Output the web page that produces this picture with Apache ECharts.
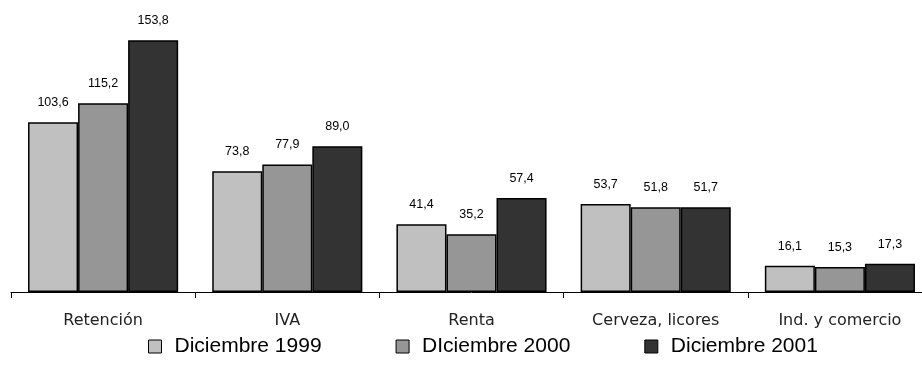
<!DOCTYPE html>
<html>
<head>
<meta charset="utf-8">
<script src="https://cdn.jsdelivr.net/npm/echarts@6/dist/echarts.min.js"></script>
<style>html,body{margin:0;padding:0;background:#fff;overflow:hidden}#c{width:940px;height:373px}</style>
</head>
<body>
<div id="c"></div>
<script>
var categories = ['Retención', 'IVA', 'Renta', 'Cerveza, licores', 'Ind. y comercio'];
var seriesNames = ['Diciembre 1999', 'DIciembre 2000', 'Diciembre 2001'];
var dic1999 = [103.6, 73.8, 41.4, 53.7, 16.1];
var dic2000 = [115.2, 77.9, 35.2, 51.8, 15.3];
var dic2001 = [153.8, 89.0, 57.4, 51.7, 17.3];
var colors = ['#c0c0c0', '#969696', '#333333'];

var chart = echarts.init(document.getElementById('c'), null, {renderer: 'canvas'});
var dataSets = [dic1999, dic2000, dic2001];
var series = dataSets.map(function (d, i) {
  return {
    name: seriesNames[i],
    type: 'bar',
    data: d,
    barGap: '0%',
    barCategoryGap: '18.5%',
    itemStyle: {color: colors[i], borderColor: '#000', borderWidth: 1.5},
    label: {
      show: true, position: 'top', distance: 13,
      fontFamily: 'Liberation Sans', fontSize: 12.5, color: '#000',
      formatter: function (p) { return p.value.toFixed(1).replace('.', ','); }
    }
  };
});
chart.setOption({
  animation: false,
  grid: {left: 11, width: 921, top: 30, bottom: 81, containLabel: false},
  legend: {
    left: 143, top: 331,
    itemWidth: 13, itemHeight: 13, itemGap: 74, icon: 'rect',
    itemStyle: {borderColor: '#000', borderWidth: 1},
    textStyle: {fontFamily: 'Liberation Sans', fontSize: 21, color: '#000', padding: [0, 0, 0, 8]},
    data: seriesNames
  },
  xAxis: {
    type: 'category', data: categories,
    axisLine: {lineStyle: {color: '#000', width: 1}},
    axisTick: {show: true, length: 6, lineStyle: {color: '#000'}},
    axisLabel: {fontFamily: 'DejaVu Sans', fontSize: 16, color: '#222', margin: 21}
  },
  yAxis: {type: 'value', min: 0, max: 160, show: false, splitLine: {show: false}},
  series: series
});
</script>
</body>
</html>
